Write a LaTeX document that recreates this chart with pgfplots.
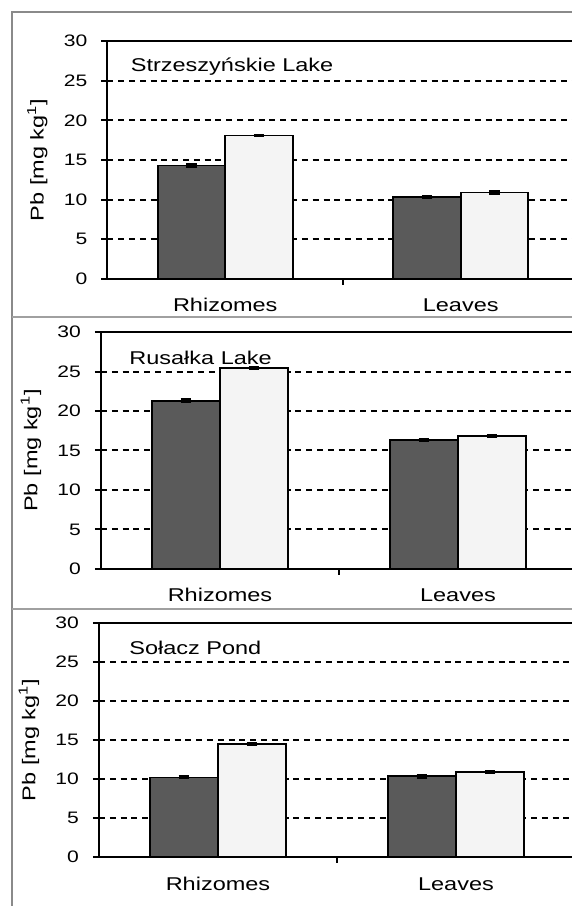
\documentclass[border=0pt]{standalone}
\usepackage{pgfplots}
\pgfplotsset{compat=1.18}
\usepackage{fontspec}
\setmainfont{Liberation Sans}[FakeStretch=1.27]
\definecolor{darkbar}{HTML}{5A5A5A}
\definecolor{lightbar}{HTML}{F4F4F4}
\definecolor{framegray}{HTML}{8A8A8A}
\definecolor{sepgray}{HTML}{A0A0A0}
\newcommand{\labfont}{\fontsize{9.25}{11}\selectfont}
\newcommand{\tickfont}{\fontsize{8.3}{9.5}\selectfont}

\pgfplotsset{
  panel/.style={
    scale only axis, anchor=south west,
    xmin=-0.5, xmax=1.5, ymin=0, ymax=30,
    ytick={0,5,...,30},
    xtick={0.5}, xticklabels={},
    extra x ticks={0,1}, extra x tick labels={Rhizomes,Leaves},
    extra x tick style={major tick length=0pt, grid=none},
    ymajorgrids,
    major grid style={black, line width=1pt, dash pattern=on 3pt off 2.4pt},
    axis line style={black, line width=1pt},
    tick style={black, line width=1pt},
    tick align=outside, major tick length=3pt,
    xtick pos=left, ytick pos=left,
    /pgf/number format/assume math mode=true,
    yticklabel style={font=\tickfont, anchor=east, xshift=-3.5pt},
    xticklabel style={font=\labfont, anchor=base, yshift=-16.5pt},
    ylabel={Pb [mg kg\textsuperscript{1}]},
    ylabel style={font=\labfont, anchor=center},
    ybar, bar width=0.287,
    error bars/y dir=both, error bars/y explicit,
    error bars/error mark options={rotate=90, black, line width=1.1pt, mark size=2.6pt},
    error bars/error bar style={black, line width=1pt},
  },
  darkser/.style={fill=darkbar, draw=black, line width=0.9pt, bar shift=-0.1435},
  lightser/.style={fill=lightbar, draw=black, line width=0.9pt, bar shift=0.1435},
}

\begin{document}
\begin{tikzpicture}
\path[use as bounding box, clip] (0,0) rectangle (286pt,453pt);
\fill[white] (0,0) rectangle (286pt,453pt);

% Panel 1
\begin{axis}[panel, at={(53.75pt,313.5pt)}, width=235.5pt, height=119pt,
  ylabel style={at={(axis description cs:-0.149,0.5)}}]
  \addplot[darkser] coordinates {(0,14.3) +- (0,0.12) (1,10.3) +- (0,0.12)};
  \addplot[lightser] coordinates {(0,18.1) +- (0,0.1) (1,10.9) +- (0,0.12)};
  \node[anchor=base west, inner sep=0pt, font=\labfont, xshift=11.5pt, yshift=-15pt] at (rel axis cs:0,1) {Strzeszyńskie Lake};
\end{axis}

% Panel 2
\begin{axis}[panel, at={(50.5pt,168.5pt)}, width=238pt, height=118.5pt,
  ylabel style={at={(axis description cs:-0.147,0.5)}}]
  \addplot[darkser] coordinates {(0,21.3) +- (0,0.15) (1,16.3) +- (0,0.12)};
  \addplot[lightser] coordinates {(0,25.4) +- (0,0.12) (1,16.8) +- (0,0.12)};
  \node[anchor=base west, inner sep=0pt, font=\labfont, xshift=14pt, yshift=-16pt] at (rel axis cs:0,1) {Rusałka Lake};
\end{axis}

% Panel 3
\begin{axis}[panel, at={(49.5pt,24.5pt)}, width=238pt, height=117pt,
  ylabel style={at={(axis description cs:-0.147,0.5)}}]
  \addplot[darkser] coordinates {(0,10.2) +- (0,0.12) (1,10.35) +- (0,0.15)};
  \addplot[lightser] coordinates {(0,14.5) +- (0,0.1) (1,10.9) +- (0,0.1)};
  \node[anchor=base west, inner sep=0pt, font=\labfont, xshift=15pt, yshift=-16pt] at (rel axis cs:0,1) {Sołacz Pond};
\end{axis}

% frame
\draw[framegray, line width=0.75pt] (6pt,0) -- (6pt,447pt) -- (286pt,447pt);
\draw[sepgray, line width=1pt] (6pt,294.5pt) -- (286pt,294.5pt);
\draw[sepgray, line width=1pt] (6pt,148.5pt) -- (286pt,148.5pt);
\end{tikzpicture}
\end{document}
